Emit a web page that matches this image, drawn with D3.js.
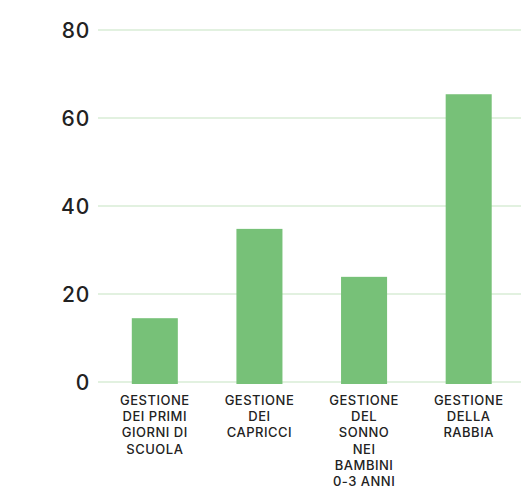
<!DOCTYPE html>
<html>
<head>
<meta charset="utf-8">
<script src="https://cdn.jsdelivr.net/npm/d3@7"></script>
<style>
  body { margin: 0; background: #fff; }
  svg text { font-family: Inter, "DejaVu Sans", sans-serif; fill: #222; }
</style>
</head>
<body>
<div id="chart"></div>
<script>
var categories = [
  ["GESTIONE", "DEI PRIMI", "GIORNI DI", "SCUOLA"],
  ["GESTIONE", "DEI", "CAPRICCI"],
  ["GESTIONE", "DEL", "SONNO", "NEI", "BAMBINI", "0-3 ANNI"],
  ["GESTIONE", "DELLA", "RABBIA"]
];
var values = [14.5, 34.8, 23.9, 65.4];
var yTicks = [0, 20, 40, 60, 80];

var width = 528, height = 488;
var gridLeft = 98, plotRight = 521;

var svg = d3.select("#chart").append("svg")
  .attr("width", width)
  .attr("height", height);

var x = d3.scaleBand()
  .domain(d3.range(values.length))
  .range([102.5, plotRight])
  .paddingInner(0.56)
  .paddingOuter(0.28);

var y = d3.scaleLinear()
  .domain([0, 80])
  .range([382, 30]);

// gridlines
svg.append("g")
  .selectAll("line")
  .data(yTicks)
  .enter().append("line")
  .attr("x1", gridLeft)
  .attr("x2", plotRight)
  .attr("y1", d => y(d))
  .attr("y2", d => y(d))
  .attr("stroke", "#d8ecd6")
  .attr("stroke-width", 1.5);

// y tick labels
svg.append("g")
  .selectAll("text")
  .data(yTicks)
  .enter().append("text")
  .attr("x", 90)
  .attr("y", d => y(d))
  .attr("dy", "0.36em")
  .attr("text-anchor", "end")
  .style("font-size", "21px")
  .style("font-weight", 500)
  .style("letter-spacing", "0.8px")
  .text(d => d);

// bars
svg.append("g")
  .selectAll("rect")
  .data(values)
  .enter().append("rect")
  .attr("x", (d, i) => x(i))
  .attr("width", x.bandwidth())
  .attr("y", d => y(d))
  .attr("height", d => y(0) - y(d) + 2)
  .attr("fill", "#77c178");

// category labels
var labels = svg.append("g")
  .selectAll("text")
  .data(categories)
  .enter().append("text")
  .attr("text-anchor", "middle")
  .attr("x", (d, i) => x(i) + x.bandwidth() / 2)
  .attr("y", 400)
  .style("font-size", "13px")
  .style("font-weight", 500)
  .style("letter-spacing", "0.5px");

labels.selectAll("tspan")
  .data(d => d)
  .enter().append("tspan")
  .attr("x", function() { return d3.select(this.parentNode).attr("x"); })
  .attr("dy", (d, i) => i === 0 ? "0.36em" : "16.3px")
  .text(d => d);
</script>
</body>
</html>
